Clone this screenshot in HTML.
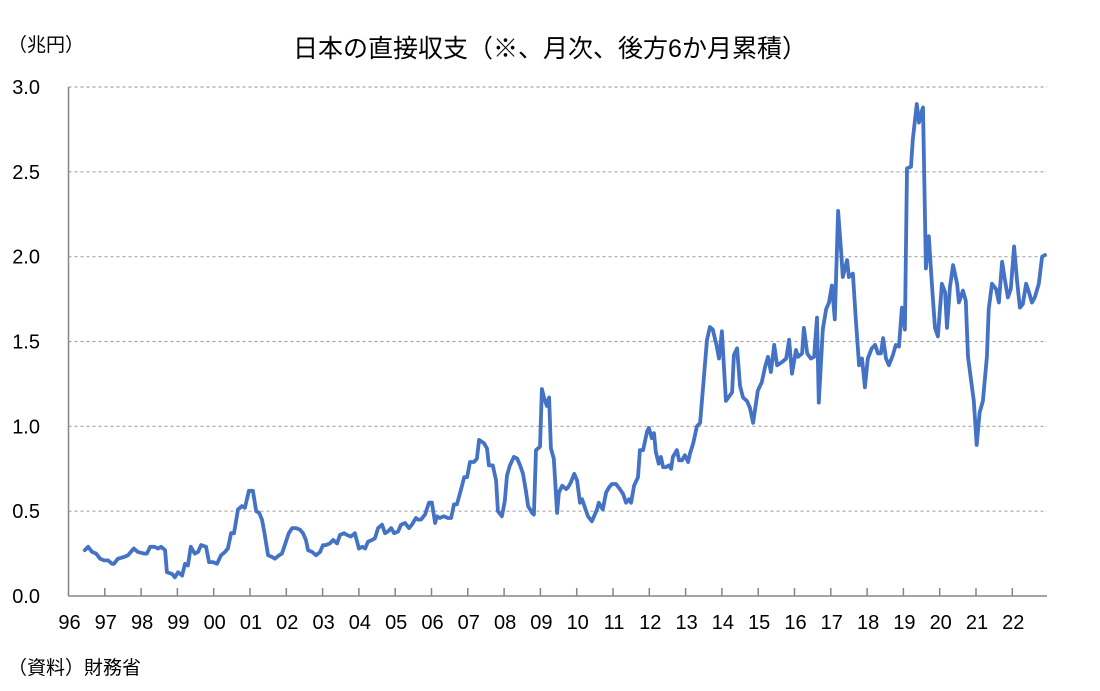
<!DOCTYPE html>
<html><head><meta charset="utf-8"><style>
body{margin:0;background:#fff;}
svg{display:block;font-family:"Liberation Sans","Noto Sans CJK JP",sans-serif;}
</style></head><body>
<svg id="chart" width="1100" height="691" viewBox="0 0 1100 691" xmlns="http://www.w3.org/2000/svg">
<rect width="1100" height="691" fill="#fff"/>
<text x="550" y="57" text-anchor="middle" font-size="25" fill="#000">日本の直接収支（※、月次、後方6か月累積）</text>
<text x="8" y="51" font-size="19" fill="#000">（兆円）</text>
<text x="8" y="674" font-size="19" fill="#000">（資料）財務省</text>
<g id="grid"></g>
<g id="yticks"></g>
<g id="xticks"></g>
<g id="series"></g>
</svg>
<script>
const yTickValues=[0,0.5,1,1.5,2,2.5,3];
const yTickLabels=["0.0","0.5","1.0","1.5","2.0","2.5","3.0"];
const xTickYears=[1996,1997,1998,1999,2000,2001,2002,2003,2004,2005,2006,2007,2008,2009,2010,2011,2012,2013,2014,2015,2016,2017,2018,2019,2020,2021,2022];
const xTickLabels=["96","97","98","99","00","01","02","03","04","05","06","07","08","09","10","11","12","13","14","15","16","17","18","19","20","21","22"];
const dates=[1996.45,1996.54,1996.65,1996.76,1996.87,1996.98,1997.09,1997.20,1997.25,1997.36,1997.53,1997.64,1997.72,1997.80,1997.91,1998.08,1998.16,1998.25,1998.36,1998.47,1998.55,1998.66,1998.71,1998.85,1998.93,1999.02,1999.13,1999.21,1999.29,1999.37,1999.48,1999.57,1999.65,1999.79,1999.87,1999.98,2000.09,2000.20,2000.31,2000.39,2000.48,2000.56,2000.67,2000.78,2000.86,2000.97,2001.08,2001.17,2001.25,2001.33,2001.39,2001.50,2001.61,2001.69,2001.80,2001.88,2001.96,2002.07,2002.16,2002.27,2002.38,2002.46,2002.54,2002.60,2002.71,2002.82,2002.93,2003.01,2003.09,2003.20,2003.29,2003.40,2003.48,2003.59,2003.67,2003.78,2003.89,2004.00,2004.09,2004.17,2004.25,2004.36,2004.44,2004.53,2004.64,2004.72,2004.80,2004.89,2004.97,2005.08,2005.16,2005.27,2005.38,2005.46,2005.57,2005.63,2005.71,2005.82,2005.93,2006.01,2006.10,2006.15,2006.23,2006.34,2006.45,2006.54,2006.62,2006.70,2006.79,2006.84,2006.90,2006.98,2007.06,2007.17,2007.25,2007.31,2007.45,2007.53,2007.58,2007.69,2007.78,2007.83,2007.94,2008.02,2008.08,2008.16,2008.27,2008.36,2008.44,2008.52,2008.60,2008.66,2008.77,2008.82,2008.88,2008.99,2009.04,2009.10,2009.18,2009.24,2009.29,2009.37,2009.46,2009.51,2009.60,2009.71,2009.76,2009.84,2009.93,2010.01,2010.09,2010.15,2010.23,2010.31,2010.42,2010.56,2010.61,2010.72,2010.81,2010.89,2010.97,2011.08,2011.19,2011.28,2011.36,2011.44,2011.50,2011.58,2011.69,2011.74,2011.83,2011.94,2011.99,2012.07,2012.13,2012.18,2012.26,2012.32,2012.38,2012.46,2012.54,2012.60,2012.65,2012.76,2012.82,2012.90,2012.98,2013.07,2013.12,2013.21,2013.31,2013.40,2013.59,2013.67,2013.75,2013.86,2013.92,2014.00,2014.11,2014.28,2014.33,2014.42,2014.50,2014.58,2014.69,2014.77,2014.86,2014.99,2015.10,2015.19,2015.27,2015.35,2015.44,2015.52,2015.66,2015.77,2015.85,2015.93,2016.04,2016.10,2016.21,2016.26,2016.35,2016.45,2016.54,2016.62,2016.67,2016.78,2016.87,2016.95,2017.03,2017.11,2017.20,2017.28,2017.33,2017.45,2017.50,2017.61,2017.69,2017.78,2017.86,2017.94,2018.02,2018.13,2018.22,2018.30,2018.38,2018.44,2018.52,2018.60,2018.71,2018.79,2018.88,2018.96,2019.04,2019.10,2019.21,2019.26,2019.37,2019.43,2019.51,2019.54,2019.62,2019.70,2019.79,2019.87,2019.95,2020.06,2020.15,2020.20,2020.28,2020.37,2020.48,2020.53,2020.64,2020.72,2020.78,2020.89,2020.94,2021.02,2021.10,2021.19,2021.30,2021.35,2021.44,2021.55,2021.63,2021.72,2021.80,2021.88,2021.96,2022.05,2022.13,2022.21,2022.29,2022.38,2022.46,2022.54,2022.62,2022.73,2022.82,2022.90];
const values=[0.27,0.29,0.26,0.25,0.22,0.21,0.21,0.19,0.19,0.22,0.23,0.24,0.26,0.28,0.26,0.25,0.25,0.29,0.29,0.28,0.29,0.27,0.14,0.13,0.11,0.14,0.12,0.19,0.18,0.29,0.25,0.26,0.30,0.29,0.20,0.20,0.19,0.24,0.26,0.28,0.37,0.37,0.51,0.53,0.52,0.62,0.62,0.50,0.49,0.45,0.38,0.24,0.23,0.22,0.24,0.25,0.30,0.37,0.40,0.40,0.39,0.37,0.33,0.27,0.26,0.24,0.26,0.30,0.30,0.31,0.33,0.31,0.36,0.37,0.36,0.35,0.37,0.28,0.29,0.28,0.32,0.33,0.34,0.40,0.42,0.37,0.38,0.40,0.37,0.38,0.42,0.43,0.40,0.42,0.46,0.45,0.45,0.48,0.55,0.55,0.43,0.47,0.46,0.47,0.46,0.46,0.54,0.54,0.61,0.65,0.70,0.70,0.79,0.79,0.81,0.92,0.90,0.87,0.77,0.77,0.68,0.50,0.47,0.56,0.71,0.77,0.82,0.81,0.77,0.72,0.62,0.53,0.49,0.48,0.86,0.88,1.22,1.17,1.12,1.17,0.87,0.81,0.49,0.61,0.65,0.63,0.64,0.67,0.72,0.68,0.55,0.57,0.52,0.47,0.44,0.51,0.55,0.51,0.61,0.64,0.66,0.66,0.63,0.60,0.55,0.57,0.55,0.65,0.70,0.86,0.86,0.97,0.99,0.93,0.96,0.85,0.78,0.82,0.76,0.76,0.77,0.75,0.82,0.86,0.80,0.80,0.83,0.79,0.84,0.90,1.00,1.02,1.51,1.585,1.57,1.47,1.40,1.56,1.15,1.20,1.42,1.46,1.24,1.17,1.15,1.11,1.02,1.21,1.26,1.35,1.41,1.32,1.48,1.36,1.38,1.40,1.51,1.31,1.45,1.41,1.43,1.58,1.43,1.40,1.41,1.64,1.14,1.57,1.69,1.73,1.83,1.63,2.27,2.04,1.88,1.98,1.88,1.90,1.63,1.36,1.40,1.23,1.40,1.46,1.48,1.43,1.43,1.52,1.40,1.36,1.42,1.48,1.47,1.70,1.57,2.52,2.53,2.69,2.90,2.79,2.86,2.88,1.93,2.12,1.82,1.58,1.53,1.84,1.79,1.58,1.82,1.95,1.84,1.73,1.80,1.74,1.41,1.23,1.15,0.89,1.08,1.15,1.41,1.69,1.84,1.81,1.73,1.97,1.86,1.76,1.81,2.06,1.86,1.70,1.72,1.84,1.79,1.73,1.76,1.84,2.00,2.01];

const NS="http://www.w3.org/2000/svg";
const X0=68.5,X1=1047,Y0=596,Y1=87;
function xScale(t){return X0+(t-1996)*36.3;}
function yScale(v){return Y0-(v-0)/(3-0)*(Y0-Y1);}
function mk(tag,attrs,parent){const e=document.createElementNS(NS,tag);for(const k in attrs)e.setAttribute(k,attrs[k]);parent.appendChild(e);return e;}

const grid=document.getElementById('grid');
const yt=document.getElementById('yticks');
yTickValues.forEach((v,i)=>{
  const y=yScale(v);
  if(v>0){
    const g=mk('line',{x1:X0,x2:X1,y1:y,y2:y,stroke:'#a6a6a6','stroke-width':1.2,'stroke-dasharray':'3 3'},grid);
    
    
  }
  const t=mk('text',{x:40,y:y+7,'text-anchor':'end','font-size':20,fill:'#000'},yt);
  t.textContent=yTickLabels[i];
  
  
});
const ax=mk('line',{x1:X0,x2:X0,y1:Y1,y2:Y0,stroke:'#868686','stroke-width':1.5},grid);


const bx=mk('line',{x1:X0,x2:X1,y1:Y0,y2:Y0,stroke:'#868686','stroke-width':1.5},grid);



const xt=document.getElementById('xticks');
xTickYears.forEach((yr,i)=>{
  const x=xScale(yr);
  if(i>0){
    const tk=mk('line',{x1:x,x2:x,y1:Y0-8,y2:Y0,stroke:'#868686','stroke-width':1.5},xt);
    
    
  }
  const t=mk('text',{x:x+1,y:629,'text-anchor':'middle','font-size':20,fill:'#000'},xt);
  t.textContent=xTickLabels[i];
  
  
});

const s=document.getElementById('series');
const d=dates.map((t,i)=>(i?'L':'M')+xScale(t).toFixed(1)+','+yScale(values[i]).toFixed(1)).join(' ');
const p=mk('path',{d:d,fill:'none',stroke:'#4472C4','stroke-width':3.8,'stroke-linejoin':'round','stroke-linecap':'round'},s);


</script>
</body></html>
